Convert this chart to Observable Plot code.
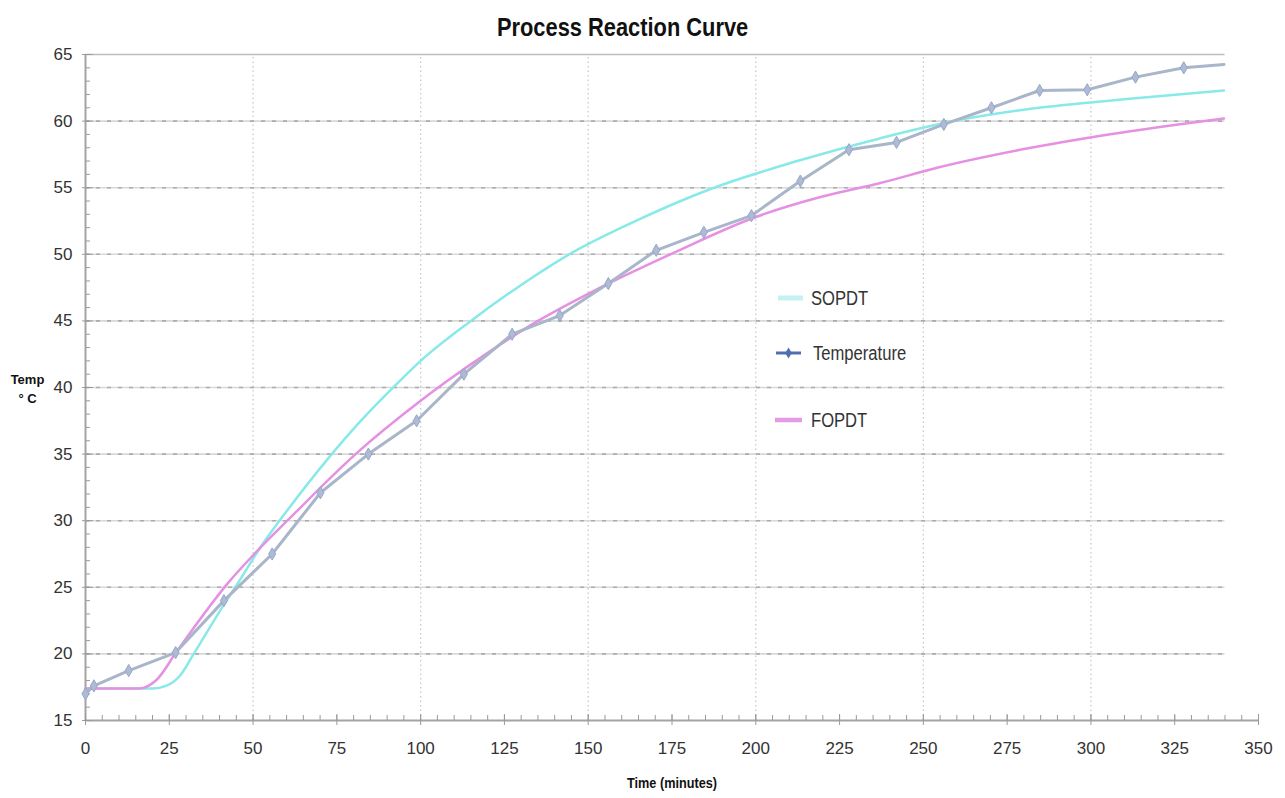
<!DOCTYPE html>
<html>
<head>
<meta charset="utf-8">
<script src="https://cdn.jsdelivr.net/npm/d3@7"></script>
<script src="https://cdn.jsdelivr.net/npm/@observablehq/plot@0.6"></script>
<style>
  body { margin: 0; background: #fff; }
  #wrap { position: relative; width: 1285px; height: 798px; overflow: hidden;
          font-family: "Liberation Sans Narrow", "Liberation Sans", Arial, sans-serif; }
  #title { height: 40px; line-height: 54px; text-align: center; padding-right: 40px; box-sizing: border-box;
           font-weight: bold; font-size: 26px; color: #111; white-space: nowrap; }
  #title span { display: inline-block; transform: scaleX(0.84); }
  .leg { position: absolute; display: flex; align-items: center; height: 24px; font-size: 20px; color: #333; white-space: nowrap; }
  .leg svg { display: block; flex: none; }
  .leg span { display: inline-block; transform: scaleX(0.83); transform-origin: left center; }
</style>
</head>
<body>
<div id="wrap">
  <div id="title"><span>Process Reaction Curve</span></div>
  <div id="chart"></div>
  <div class="leg" style="left:776px; top:286px">
    <svg width="35" height="24"><line x1="2" x2="27" y1="12" y2="12" stroke="#c4f2f2" stroke-width="5"/></svg><span>SOPDT</span>
  </div>
  <div class="leg" style="left:776px; top:341px">
    <svg width="37" height="24"><line x1="0" x2="25" y1="12" y2="12" stroke="#4e6fb0" stroke-width="3"/>
      <path d="M12.5,6.5L15.8,12L12.5,17.5L9.2,12Z" fill="#4e6fb0"/></svg><span>Temperature</span>
  </div>
  <div class="leg" style="left:775px; top:408px">
    <svg width="36" height="24"><line x1="0" x2="27" y1="12" y2="12" stroke="#e39be3" stroke-width="4.5"/></svg><span>FOPDT</span>
  </div>
</div>
<script>
// ---- data ----
const timeMin = [0, 2.5, 12.9, 26.9, 41.3, 55.7, 70.1, 84.4, 98.8, 112.9, 127.3, 141.5, 156.0, 170.3, 184.5, 198.7, 213.3, 227.8, 242.0, 256.1, 270.3, 284.7, 298.9, 313.3, 327.7, 339.7];
const tempC   = [17.0, 17.6, 18.75, 20.1, 24.0, 27.5, 32.1, 35.0, 37.5, 41.0, 44.0, 45.4, 47.8, 50.3, 51.65, 52.9, 55.5, 57.85, 58.4, 59.75, 61.0, 62.3, 62.35, 63.3, 64.0, 64.25];

const sopdtTime = [0, 20, 24, 28.3, 32.3, 41.3, 45.7, 52.7, 58.2, 72.5, 82, 93.4, 100, 115, 130, 144.7, 165, 186.5, 212.4, 237, 259, 280, 300, 315, 339.7];
const sopdtC    = [17.4, 17.4, 17.6, 18.4, 20.0, 23.7, 25.4, 28.2, 30.1, 34.7, 37.45, 40.4, 42.0, 45.0, 47.7, 50.05, 52.6, 54.9, 57.0, 58.7, 60.0, 60.85, 61.4, 61.75, 62.3];

const fopdtTime = [0, 16, 21, 27.4, 42.3, 54.2, 60.2, 80.6, 100, 108, 120, 135, 152, 175, 200, 219.3, 237.2, 254.1, 280, 305.3, 339.7];
const fopdtC    = [17.4, 17.4, 18.0, 20.25, 25.26, 28.5, 30.0, 35.0, 39.0, 40.5, 42.6, 45.0, 47.3, 50.05, 52.8, 54.3, 55.35, 56.5, 57.9, 59.0, 60.2];

const xTicks = [0, 25, 50, 75, 100, 125, 150, 175, 200, 225, 250, 275, 300, 325, 350];
const yTicks = [15, 20, 25, 30, 35, 40, 45, 50, 55, 60, 65];
const xMinor = d3.range(0, 351, 5);
const yMinor = d3.range(15, 66, 1);
const gridYDashed = [20, 25, 30, 35, 40, 45, 50, 55, 60];
const gridYTop = [65];
const gridXDotted = [50, 100, 150, 200, 250, 300];
const gridEnd = 340;

const temp  = timeMin.map((t, i) => ({t, c: tempC[i]}));
const sopdt = sopdtTime.map((t, i) => ({t, c: sopdtC[i]}));
const fopdt = fopdtTime.map((t, i) => ({t, c: fopdtC[i]}));

const font = '"Liberation Sans Narrow", "Liberation Sans", Arial, sans-serif';

const chart = Plot.plot({
  width: 1285,
  height: 758,
  marginLeft: 85,
  marginRight: 27,
  marginTop: 14,
  marginBottom: 78,
  x: {domain: [0, 350]},
  y: {domain: [15, 65]},
  style: {fontFamily: font, background: "white", overflow: "visible"},
  marks: [
    // grid
    Plot.ruleX(gridXDotted, {y1: () => 15, y2: () => 65, stroke: "#c9c9c9", strokeWidth: 1.3, strokeDasharray: "1.5,3"}),
    Plot.ruleY(gridYDashed, {x1: () => 0, x2: () => gridEnd, stroke: "#d8d8d8", strokeWidth: 1.6}),
    Plot.ruleY(gridYDashed, {x1: () => 0, x2: () => gridEnd, stroke: "#acacac", strokeWidth: 1.6, strokeDasharray: "4,7"}),
    Plot.ruleY(gridYTop, {x1: () => 0, x2: () => gridEnd, stroke: "#bcbcbc", strokeWidth: 1.5}),
    // axis lines
    Plot.ruleX([0], {y1: () => 15, y2: () => 65, stroke: "#a4a4a4", strokeWidth: 2}),
    Plot.ruleY([15], {x1: () => 0, x2: () => 350, stroke: "#a4a4a4", strokeWidth: 2}),
    // x ticks
    Plot.axisX(xMinor, {anchor: "bottom", tickSize: 5, dy: -5, tickFormat: () => "", label: null, stroke: "#9a9a9a"}),
    Plot.axisX(xTicks, {anchor: "bottom", tickSize: 11, dy: -6, tickFormat: () => "", label: null, stroke: "#9a9a9a"}),
    Plot.axisX(xTicks, {anchor: "bottom", tickSize: 0, tickPadding: 21, fontSize: 17, fill: "#333", label: null}),
    // y ticks
    Plot.axisY(yMinor, {anchor: "left", tickSize: 4, dx: 5, tickFormat: () => "", label: null, stroke: "#9a9a9a"}),
    Plot.axisY(yTicks, {anchor: "left", tickSize: 11, dx: 8, tickFormat: () => "", label: null, stroke: "#9a9a9a"}),
    Plot.axisY(yTicks, {anchor: "left", tickSize: 0, tickPadding: 13, fontSize: 17, fill: "#333", label: null}),
    // axis titles
    Plot.text(["Time (minutes)"], {frameAnchor: "bottom", dy: 67, dx: 0, fontWeight: "bold", fontSize: 15, fill: "#111", textAnchor: "middle"}),
    Plot.text(["Temp\n° C"], {frameAnchor: "left", dx: -58, dy: 0, fontWeight: "bold", fontSize: 13, lineHeight: 1.45, fill: "#111", textAnchor: "middle"}),
    // series
    Plot.line(sopdt, {x: "t", y: "c", stroke: "#88e9e9", strokeWidth: 2.5, curve: "monotone-x"}),
    Plot.line(fopdt, {x: "t", y: "c", stroke: "#e590e2", strokeWidth: 2.5, curve: "monotone-x"}),
    Plot.line(temp, {x: "t", y: "c", stroke: "#a9b5c9", strokeWidth: 3}),
    Plot.dot(temp.slice(0, -1), {x: "t", y: "c", symbol: "diamond", r: 3.7, fill: "#aebbd7", stroke: "#97a7c7", strokeWidth: 1})
  ]
});
document.getElementById("chart").appendChild(chart);

// condense the axis title like the reference's narrow type
d3.select(chart).selectAll("text")
  .filter(function () { return this.textContent === "Time (minutes)"; })
  .attr("textLength", 90)
  .attr("lengthAdjust", "spacingAndGlyphs");
</script>
</body>
</html>
